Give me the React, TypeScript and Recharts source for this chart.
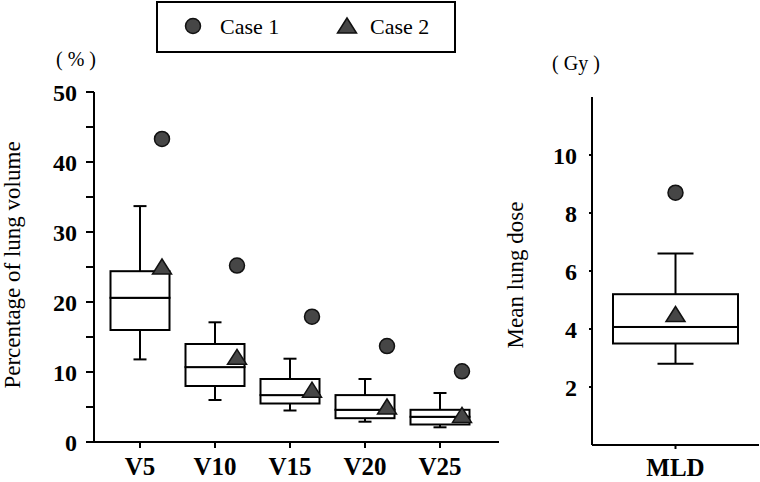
import React from 'react';
import { ComposedChart, Bar, Line, XAxis, YAxis } from 'recharts';

// ---- Left panel data (percentage of lung volume) ----
const categories = ['V5', 'V10', 'V15', 'V20', 'V25'];
const whiskerLow = [11.8, 6.0, 4.5, 2.9, 2.1];
const q1 = [16.0, 8.0, 5.5, 3.4, 2.5];
const median = [20.6, 10.7, 6.7, 4.6, 3.6];
const q3 = [24.4, 14.0, 9.0, 6.7, 4.6];
const whiskerHigh = [33.7, 17.1, 11.9, 9.0, 7.0];
const case1 = [43.3, 25.2, 17.9, 13.7, 10.1];
const case2 = [25.0, 12.1, 7.4, 5.0, 3.8];
const leftTicks = [0, 5, 10, 15, 20, 25, 30, 35, 40, 45, 50];

// ---- Right panel data (mean lung dose, Gy) ----
const mldCategories = ['MLD'];
const mldLow = [2.8];
const mldQ1 = [3.5];
const mldMedian = [4.07];
const mldQ3 = [5.2];
const mldHigh = [6.6];
const mldCase1 = [8.7];
const mldCase2 = [4.5];
const rightTicks = [2, 4, 6, 8, 10];

const buildRows = (cats: string[], lo: number[], a: number[], m: number[], b: number[], hi: number[], c1: number[], c2: number[]) =>
  cats.map((name, i) => ({
    name,
    base: lo[i],
    lowW: a[i] - lo[i],
    box1: m[i] - a[i],
    box2: b[i] - m[i],
    highW: hi[i] - b[i],
    case1: c1[i],
    case2: c2[i],
  }));

const leftRows = buildRows(categories, whiskerLow, q1, median, q3, whiskerHigh, case1, case2);
const rightRows = buildRows(mldCategories, mldLow, mldQ1, mldMedian, mldQ3, mldHigh, mldCase1, mldCase2);

const SERIF = '"Liberation Serif", "Times New Roman", serif';
const MARK_FILL = '#464646';

const whisker = (cap: 'top' | 'bottom', capW: number) => (props: any) => {
  const { x, y, width, height } = props;
  const cx = x + width / 2;
  const capY = cap === 'top' ? y : y + height;
  return (
    <g>
      <line x1={cx} x2={cx} y1={y} y2={y + height} stroke="#000" strokeWidth={2} />
      <line x1={cx - capW / 2} x2={cx + capW / 2} y1={capY} y2={capY} stroke="#000" strokeWidth={2} />
    </g>
  );
};

const boxShape = (props: any) => {
  const { x, y, width, height } = props;
  return <rect x={x} y={y} width={width} height={height} fill="#fff" stroke="#000" strokeWidth={2} />;
};

const emptyShape = () => <g />;

const circleDot = (dx: number) => (p: any) => (
  <circle key={`c-${p.index}`} cx={p.cx + dx} cy={p.cy} r={7.5} fill={MARK_FILL} stroke="#111" strokeWidth={1.5} />
);

const triDot = (dx: number) => (p: any) => {
  const cx = p.cx + dx;
  const cy = p.cy;
  return (
    <polygon
      key={`t-${p.index}`}
      points={`${cx},${cy - 8} ${cx - 9.5},${cy + 7} ${cx + 9.5},${cy + 7}`}
      fill={MARK_FILL}
      stroke="#111"
      strokeWidth={1.5}
    />
  );
};

const yTickStyle = { fill: '#000', fontSize: 24, fontWeight: 'bold' as const, fontFamily: SERIF };
const xTickStyle = { fill: '#000', fontSize: 25, fontWeight: 'bold' as const, fontFamily: SERIF };
const axisLine = { stroke: '#000', strokeWidth: 2 };

export default function App() {
  return (
    <div style={{ position: 'absolute', left: 0, top: 0, width: 760, height: 482, background: '#fff' }}>
      <div style={{ position: 'absolute', left: 0, top: 0 }}>
        <ComposedChart width={520} height={482} data={leftRows} margin={{ top: 92, right: 21, bottom: 0, left: 0 }}>
          <XAxis
            dataKey="name"
            type="category"
            height={40}
            padding={{ left: 8.5, right: 21.5 }}
            tick={xTickStyle}
            tickSize={6}
            tickMargin={9}
            axisLine={axisLine}
            tickLine={{ stroke: '#000', strokeWidth: 2 }}
            interval={0}
          />
          <YAxis
            type="number"
            width={94}
            domain={[0, 50]}
            ticks={leftTicks}
            interval={0}
            tickFormatter={(v: number) => (v % 10 === 0 ? String(v) : '')}
            tick={yTickStyle}
            tickSize={8}
            tickMargin={9}
            axisLine={axisLine}
            tickLine={{ stroke: '#000', strokeWidth: 2 }}
          />
          <Bar dataKey="base" stackId="a" barSize={59} shape={emptyShape} isAnimationActive={false} />
          <Bar dataKey="lowW" stackId="a" barSize={59} shape={whisker('bottom', 13)} isAnimationActive={false} />
          <Bar dataKey="box1" stackId="a" barSize={59} shape={boxShape} isAnimationActive={false} />
          <Bar dataKey="box2" stackId="a" barSize={59} shape={boxShape} isAnimationActive={false} />
          <Bar dataKey="highW" stackId="a" barSize={59} shape={whisker('top', 13)} isAnimationActive={false} />
          <Line dataKey="case1" stroke="none" dot={circleDot(22)} activeDot={false} isAnimationActive={false} />
          <Line dataKey="case2" stroke="none" dot={triDot(22)} activeDot={false} isAnimationActive={false} />
        </ComposedChart>
      </div>
      <div style={{ position: 'absolute', left: 520, top: 0 }}>
        <ComposedChart width={240} height={482} data={rightRows} margin={{ top: 97, right: 1, bottom: 0, left: 0 }}>
          <XAxis
            dataKey="name"
            type="category"
            height={37}
            tick={xTickStyle}
            tickSize={4}
            tickMargin={9}
            axisLine={axisLine}
            tickLine={{ stroke: '#000', strokeWidth: 2 }}
          />
          <YAxis
            type="number"
            width={72}
            domain={[0, 12]}
            ticks={rightTicks}
            interval={0}
            tick={yTickStyle}
            tickSize={3}
            tickMargin={12}
            axisLine={axisLine}
            tickLine={{ stroke: '#000', strokeWidth: 2 }}
          />
          <Bar dataKey="base" stackId="a" barSize={125} shape={emptyShape} isAnimationActive={false} />
          <Bar dataKey="lowW" stackId="a" barSize={125} shape={whisker('bottom', 36)} isAnimationActive={false} />
          <Bar dataKey="box1" stackId="a" barSize={125} shape={boxShape} isAnimationActive={false} />
          <Bar dataKey="box2" stackId="a" barSize={125} shape={boxShape} isAnimationActive={false} />
          <Bar dataKey="highW" stackId="a" barSize={125} shape={whisker('top', 36)} isAnimationActive={false} />
          <Line dataKey="case1" stroke="none" dot={circleDot(0)} activeDot={false} isAnimationActive={false} />
          <Line dataKey="case2" stroke="none" dot={triDot(0)} activeDot={false} isAnimationActive={false} />
        </ComposedChart>
      </div>
      <svg width={760} height={482} style={{ position: 'absolute', left: 0, top: 0, pointerEvents: 'none' }}>
        <line x1={86} x2={95} y1={442} y2={442} stroke="#000" strokeWidth={2} />
        <rect x={157} y={2} width={298} height={50} fill="none" stroke="#000" strokeWidth={2} />
        <circle cx={193} cy={26} r={7.5} fill={MARK_FILL} stroke="#111" strokeWidth={1.5} />
        <text x={220} y={34} fontFamily={SERIF} fontSize={22} fill="#000">Case 1</text>
        <polygon points="347,18 337.5,33 356.5,33" fill={MARK_FILL} stroke="#111" strokeWidth={1.5} />
        <text x={370} y={34} fontFamily={SERIF} fontSize={22} fill="#000">Case 2</text>
        <text x={76} y={66} textAnchor="middle" fontFamily={SERIF} fontSize={20} fill="#000">( % )</text>
        <text x={576} y={70} textAnchor="middle" fontFamily={SERIF} fontSize={20} fill="#000">( Gy )</text>
        <text
          transform="translate(20,265) rotate(-90)"
          textAnchor="middle"
          fontFamily={SERIF}
          fontSize={23}
          fill="#000"
        >
          Percentage of  lung volume
        </text>
        <text
          transform="translate(523,275) rotate(-90)"
          textAnchor="middle"
          fontFamily={SERIF}
          fontSize={23}
          fill="#000"
        >
          Mean lung dose
        </text>
      </svg>
    </div>
  );
}
